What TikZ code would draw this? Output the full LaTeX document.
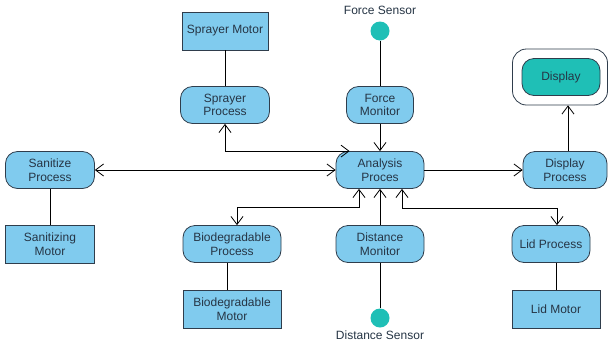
\documentclass[tikz,border=0pt]{standalone}
\usepackage{fontspec}
\setmainfont{Liberation Sans}
\usepackage{xcolor}
\usetikzlibrary{arrows.meta, positioning}

\definecolor{procblue}{HTML}{80CBEE}
\definecolor{sensteal}{HTML}{1FBFB6}
\definecolor{edgegray}{HTML}{2F3D4C}
\definecolor{txtgray}{HTML}{263545}

\begin{document}
\begin{tikzpicture}[
  x=1pt, y=-1pt,
  >={Straight Barb[length=8pt,width=12pt]},
  line width=0.8pt,
  every node/.style={align=center, font=\fontsize{12}{13.5}\selectfont, text=txtgray, inner sep=1pt},
  proc/.style={draw=edgegray, fill=procblue, rounded corners=12pt, minimum height=37pt},
  motor/.style={draw=edgegray, fill=procblue, minimum height=38pt},
  sensor/.style={circle, fill=sensteal, minimum size=19pt, inner sep=0pt}
]
\path[use as bounding box, fill=white] (0,0) rectangle (608,346);

% top row
\node (sprmotor) [motor, minimum width=86pt] at (225,31) {Sprayer Motor};
\node (forcesens) [sensor, label={[label distance=5pt]above:Force Sensor}] at (380,31) {};
\node (sprproc) [proc, minimum width=89pt] at (225,105) {Sprayer\\Process};
\node (forcemon) [proc, minimum width=67pt] at (380,105) {Force\\Monitor};
\node (dispbox) [draw=edgegray, fill=white, rounded corners=14pt, minimum width=95pt, minimum height=56pt] at (560,77) {};
\node (disp) [proc, fill=sensteal, minimum width=78pt] at (561,77) {Display};

% middle row
\node (sanproc) [proc, minimum width=89pt] at (50,170) {Sanitize\\Process};
\node (analysis) [proc, minimum width=88pt] at (380,170) {Analysis\\Proces};
\node (dispproc) [proc, minimum width=84pt] at (565,170) {Display\\Process};

% bottom rows
\node (sanmotor) [motor, minimum width=89pt] at (50,244) {Sanitizing\\Motor};
\node (bioproc) [proc, minimum width=98pt] at (232,244) {Biodegradable\\Process};
\node (distmon) [proc, minimum width=88pt] at (380,244) {Distance\\Monitor};
\node (lidproc) [proc, minimum width=78pt] at (551,244) {Lid Process};
\node (biomotor) [motor, minimum width=98pt] at (232,309) {Biodegradable\\Motor};
\node (distsens) [sensor, label={[label distance=1pt]below:Distance Sensor}] at (380,318) {};
\node (lidmotor) [motor, minimum width=88pt] at (556,309) {Lid Motor};

\draw (sprmotor) -- (sprproc);
\draw (forcesens) -- (forcemon);
\draw[->] (forcemon) -- (analysis);
\draw[<->] (sprproc.south) |- ([xshift=14pt]analysis.north west);
\draw[<->] (sanproc) -- (analysis);
\draw[->] (analysis) -- (dispproc);
\draw[->] ([xshift=3pt]dispproc.north) -- ([xshift=3pt]dispproc.north |- dispbox.south);
\draw[<->] ([xshift=5pt]bioproc.north) -- ++(0,-18) -| ([xshift=-21pt]analysis.south);
\draw[->] (distmon) -- (analysis);
\draw[<->] ([xshift=22pt]analysis.south) -- ++(0,19) -| ([xshift=6pt]lidproc.north);
\draw (distsens) -- (distmon);
\draw (sanproc) -- (sanmotor);
\draw ([xshift=-5pt]bioproc.south) -- ([xshift=-5pt]biomotor.north);
\draw (lidmotor.north) -- (lidmotor.north |- lidproc.south);
\end{tikzpicture}
\end{document}
